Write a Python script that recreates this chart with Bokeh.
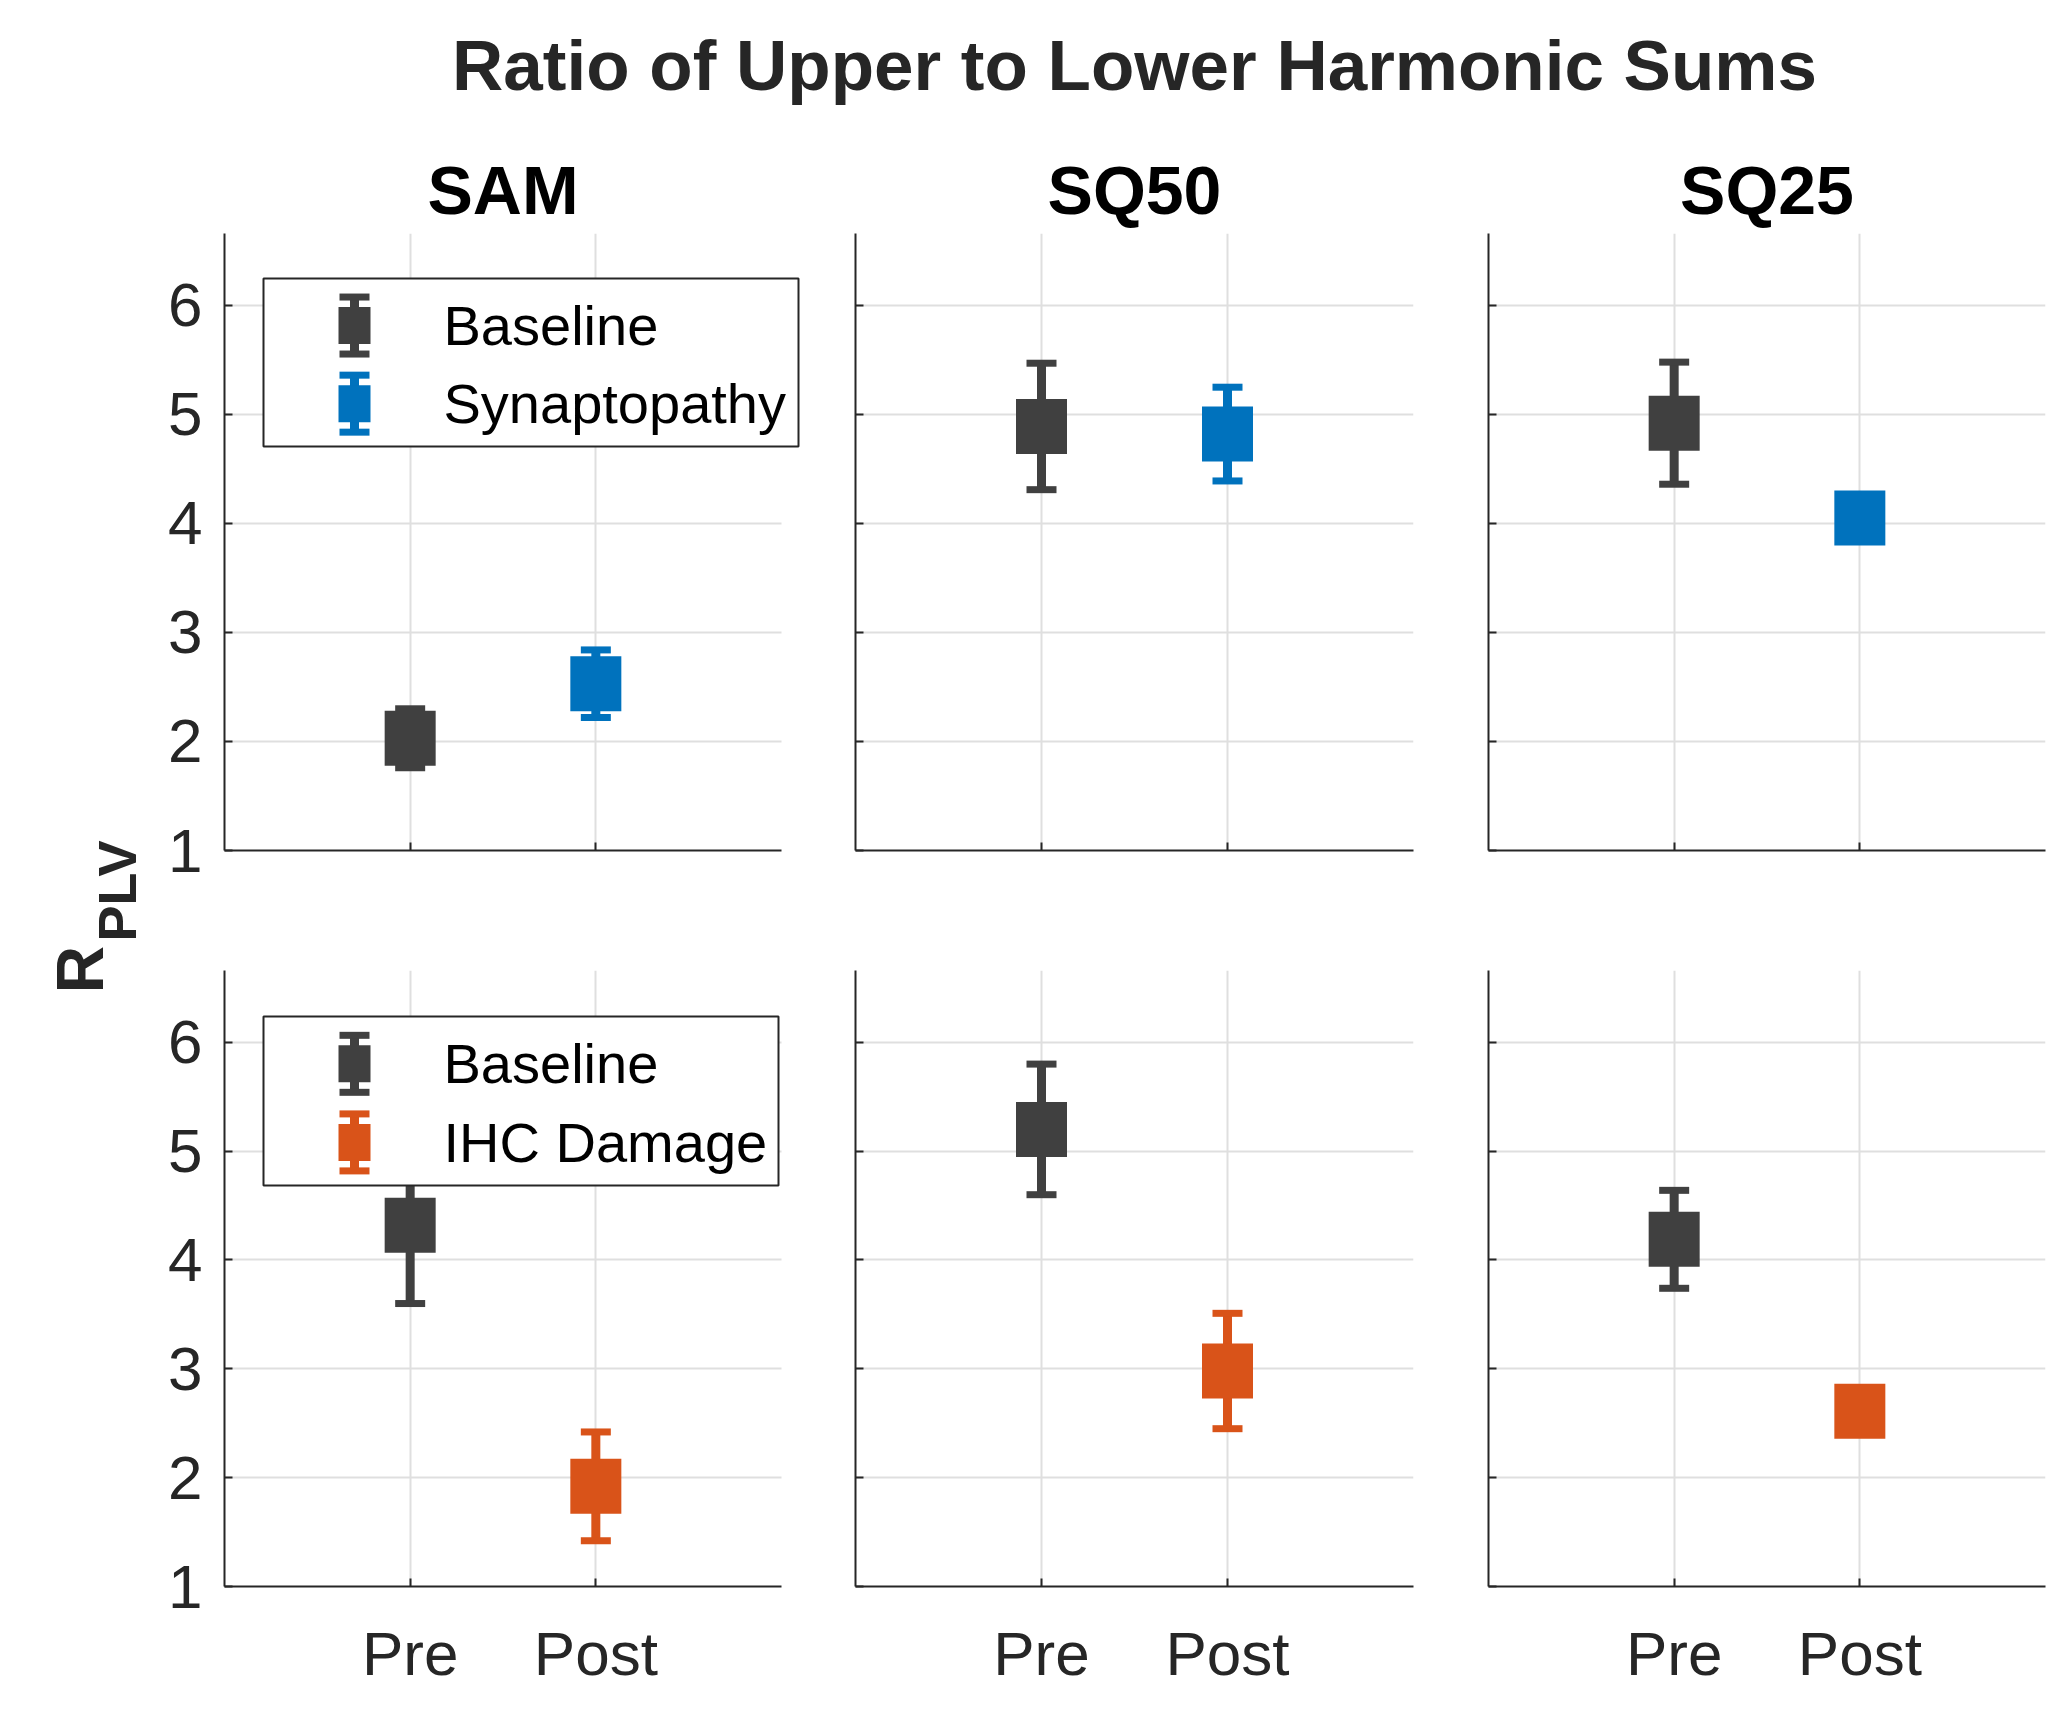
import math
from bokeh.plotting import figure
from bokeh.models import Range1d, FixedTicker, BoxAnnotation, Label, GridBox, ColumnDataSource
from bokeh.embed import file_html
from bokeh.resources import INLINE

# ---------------- data ----------------
title_text = "Ratio of Upper to Lower Harmonic Sums"
ylabel_main = "R"
ylabel_sub = "PLV"
stimuli = ["SAM", "SQ50", "SQ25"]
conditions = ["Pre", "Post"]
ytick_values = [1, 2, 3, 4, 5, 6]
y_limits = [1, 6.66]
x_limits = [0, 3]
legend_top = ["Baseline", "Synaptopathy"]
legend_bottom = ["Baseline", "IHC Damage"]

# top row: Baseline (Pre) vs Synaptopathy (Post)
syn_sam_mean = [2.03, 2.53]
syn_sam_err = [0.27, 0.31]
syn_sq50_mean = [4.89, 4.82]
syn_sq50_err = [0.58, 0.43]
syn_sq25_mean = [4.92, 4.05]
syn_sq25_err = [0.56, 0.0]

# bottom row: Baseline (Pre) vs IHC Damage (Post)
ihc_sam_mean = [4.32, 1.92]
ihc_sam_err = [0.72, 0.50]
ihc_sq50_mean = [5.20, 2.98]
ihc_sq50_err = [0.60, 0.53]
ihc_sq25_mean = [4.19, 2.61]
ihc_sq25_err = [0.45, 0.0]

# ---------------- style / layout ----------------
C_BASE = "#404040"
C_SYN = "#0072BD"
C_IHC = "#D95319"
AX = "#262626"
GRID = "#dfdfdf"
FONT = "Liberation Sans"
MID = 0.3465  # em offset from 'middle' anchor to alphabetic baseline

TITLE_H = 233
YLAB_W = 150
COL_W = [668, 632, 605]
COL_L = [74, 37, 38]
COL_R = [37, 37, 10]
EXTRA_R = [19, 0, 0]          # frame overhang (legend room) beyond x axis end
ROW_H = [676, 816]
ROW_T = [0, 61]
ROW_B = [59, 139]
PAGE_W = YLAB_W + sum(COL_W)
PAGE_H = TITLE_H + sum(ROW_H)

MARK_W, MARK_H = 51, 55
CAP_W, CAP_H = 30, 7
STEM_W = 9


def axis_w(c):
    return COL_W[c] - COL_L[c] - COL_R[c]


def make_panel(r, c, means, errs, cond_color, legend_labels=None, legend_box=None):
    fw = axis_w(c)
    fh = ROW_H[r] - ROW_T[r] - ROW_B[r]
    xppu = fw / (x_limits[1] - x_limits[0])
    yppu = fh / (y_limits[1] - y_limits[0])
    extra = EXTRA_R[c]
    x_end = x_limits[1] + extra / xppu
    p = figure(width=COL_W[c], height=ROW_H[r],
               x_range=Range1d(x_limits[0], x_end), y_range=Range1d(*y_limits),
               min_border_left=COL_L[c], min_border_right=COL_R[c] - extra,
               min_border_top=ROW_T[r], min_border_bottom=ROW_B[r],
               output_backend="svg", toolbar_location=None,
               background_fill_color="white", border_fill_color="white",
               outline_line_color=None)

    xs = [i + 1 for i in range(len(conditions))]
    colors = [C_BASE, cond_color]
    lo = [m - e for m, e in zip(means, errs)]
    hi = [m + e for m, e in zip(means, errs)]
    src = ColumnDataSource(dict(x=xs, mean=means, lo=lo, hi=hi, color=colors))
    cap_src = ColumnDataSource(dict(x=xs + xs, y=hi + lo, color=colors + colors))

    p.segment(x0="x", y0="lo", x1="x", y1="hi", source=src, line_color="color",
              line_width=STEM_W, line_cap="butt")
    p.rect(x="x", y="y", width=CAP_W, height=CAP_H, width_units="screen", height_units="screen",
           fill_color="color", line_color=None, source=cap_src)
    p.rect(x="x", y="mean", width=MARK_W, height=MARK_H, width_units="screen", height_units="screen",
           fill_color="color", line_color=None, source=src)

    # axes
    p.xaxis.ticker = FixedTicker(ticks=xs)
    p.xgrid.ticker = FixedTicker(ticks=xs)
    p.xaxis.major_label_overrides = {x: lab for x, lab in zip(xs, conditions)}
    p.yaxis.ticker = FixedTicker(ticks=ytick_values)
    p.ygrid.ticker = FixedTicker(ticks=ytick_values)
    p.xaxis.bounds = tuple(x_limits)
    for ax in (p.xaxis, p.yaxis):
        ax.axis_line_color = AX
        ax.axis_line_width = 2
        ax.major_tick_line_color = AX
        ax.major_tick_line_width = 2
        ax.major_tick_in = 8
        ax.major_tick_out = 0
        ax.minor_tick_line_color = None
        ax.major_label_text_font = FONT
        ax.major_label_text_font_size = "62px"
        ax.major_label_text_color = AX
    p.yaxis.major_label_standoff = 22
    p.xaxis.major_label_standoff = 32
    if c != 0:
        p.yaxis.major_label_text_color = None
        p.yaxis.major_label_text_font_size = "1px"
        p.yaxis.major_label_standoff = 0
    if r == 0:
        p.xaxis.major_label_text_color = None
        p.xaxis.major_label_text_font_size = "1px"
        p.xaxis.major_label_standoff = 0
    for g in (p.xgrid[0], p.ygrid[0]):
        g.grid_line_color = GRID
        g.grid_line_width = 2
    if extra and "cross_bounds" in p.ygrid[0].properties():
        p.ygrid[0].cross_bounds = tuple(x_limits)

    if legend_labels is not None:
        left, top, w, h = legend_box
        X = lambda px: x_limits[0] + px / xppu
        Y = lambda py: y_limits[1] - py / yppu
        p.add_layout(BoxAnnotation(left=X(left), right=X(left + w), top=Y(top), bottom=Y(top + h),
                                   fill_color="white", fill_alpha=1.0, line_color=AX,
                                   line_alpha=1.0, line_width=2))
        row_offsets = [0.28 * h, 0.745 * h]
        for k, (lab, col) in enumerate(zip(legend_labels, colors)):
            cy = top + row_offsets[k]
            cx = left + 91

            def box(x0, x1, y0, y1):
                p.add_layout(BoxAnnotation(left=X(x0), right=X(x1), top=Y(y0), bottom=Y(y1),
                                           fill_color=col, fill_alpha=1.0, line_color=None))
            box(cx - 4.5, cx + 4.5, cy - 28.5, cy + 28.5)
            for s in (-1, 1):
                box(cx - 15, cx + 15, cy + s * 28.5 - 3.5, cy + s * 28.5 + 3.5)
            box(cx - 16, cx + 16, cy - 18.5, cy + 18.5)
            p.add_layout(Label(x=X(left + 180), y=Y(cy), text=lab, text_baseline="middle",
                               text_align="left", text_font=FONT, text_font_size="56px",
                               text_color="black"))
    return p


panels = [
    make_panel(0, 0, syn_sam_mean, syn_sam_err, C_SYN, legend_top, (39, 45, 535, 168)),
    make_panel(0, 1, syn_sq50_mean, syn_sq50_err, C_SYN),
    make_panel(0, 2, syn_sq25_mean, syn_sq25_err, C_SYN),
    make_panel(1, 0, ihc_sam_mean, ihc_sam_err, C_IHC, legend_bottom, (39, 46, 515, 169)),
    make_panel(1, 1, ihc_sq50_mean, ihc_sq50_err, C_IHC),
    make_panel(1, 2, ihc_sq25_mean, ihc_sq25_err, C_IHC),
]

# Title canvas (main title + column titles). Bokeh aligns plot borders along shared
# grid lines, so its right border matches the last column's; data units == page px.
tfig = figure(width=PAGE_W, height=TITLE_H,
              x_range=Range1d(0, PAGE_W - COL_R[2]), y_range=Range1d(0, TITLE_H),
              min_border=0, min_border_right=COL_R[2],
              x_axis_location=None, y_axis_location=None, outline_line_color=None,
              toolbar_location=None, output_backend="svg")
tfig.grid.visible = False
title_size = 71
tfig.add_layout(Label(x=1134, y=TITLE_H - (90 - MID * title_size), text=title_text,
                      text_align="center", text_baseline="middle",
                      text_font=FONT, text_font_size=f"{title_size}px", text_font_style="bold",
                      text_color=AX))
sub_size = 68
x0 = YLAB_W
for c, name in enumerate(stimuli):
    cx = x0 + COL_L[c] + axis_w(c) / 2
    tfig.add_layout(Label(x=cx, y=TITLE_H - (213 - MID * sub_size), text=name,
                          text_align="center", text_baseline="middle",
                          text_font=FONT, text_font_size=f"{sub_size}px", text_font_style="bold",
                          text_color="black"))
    x0 += COL_W[c]

# Y-label canvas spanning both rows; its top/bottom borders align with the panels'.
# data y = PAGE_H - page_y
ylh = sum(ROW_H)
yfig = figure(width=YLAB_W, height=ylh, x_range=Range1d(0, YLAB_W),
              y_range=Range1d(ROW_B[1], PAGE_H - TITLE_H - ROW_T[0]),
              min_border=0, min_border_top=ROW_T[0], min_border_bottom=ROW_B[1],
              x_axis_location=None, y_axis_location=None, outline_line_color=None,
              toolbar_location=None, output_backend="svg")
yfig.grid.visible = False
r_size, s_size = 66, 54
yfig.add_layout(Label(x=102 - MID * r_size, y=PAGE_H - 993, text=ylabel_main, angle=math.pi / 2,
                      text_align="left", text_baseline="middle", text_font=FONT,
                      text_font_size=f"{r_size}px", text_font_style="bold", text_color=AX))
yfig.add_layout(Label(x=135 - MID * s_size, y=PAGE_H - 941, text=ylabel_sub, angle=math.pi / 2,
                      text_align="left", text_baseline="middle", text_font=FONT,
                      text_font_size=f"{s_size}px", text_font_style="bold", text_color=AX))

children = [(tfig, 0, 0, 1, 4), (yfig, 1, 0, 2, 1)]
for i, p in enumerate(panels):
    children.append((p, 1 + i // 3, 1 + i % 3))
layout = GridBox(children=children, spacing=0)

open("out.html", "w").write(file_html(layout, INLINE))
